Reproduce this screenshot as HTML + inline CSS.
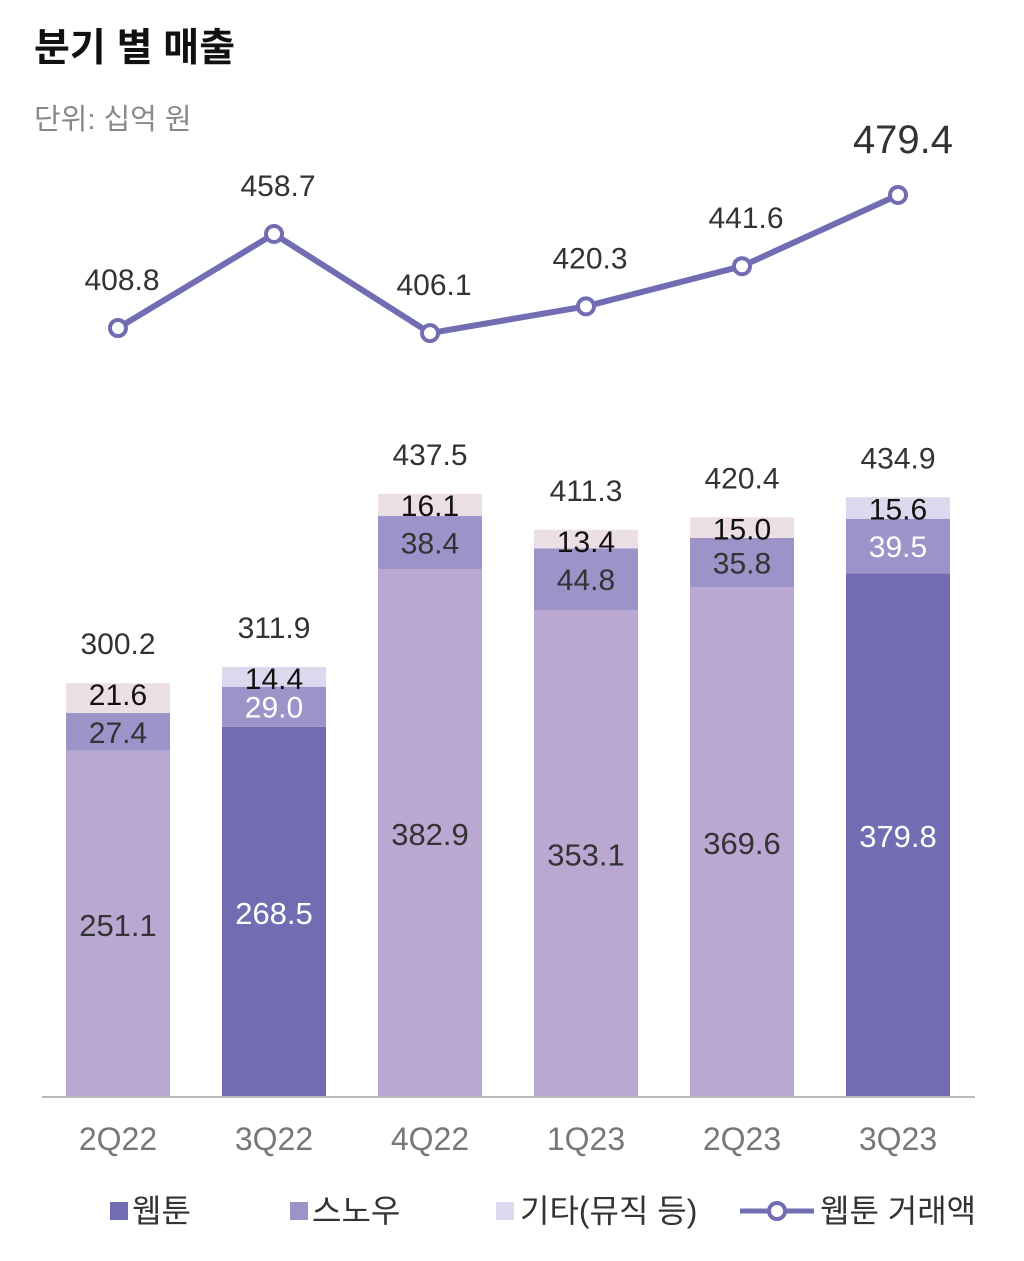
<!DOCTYPE html>
<html><head><meta charset="utf-8"><style>
body{margin:0;background:#fff;font-family:"Liberation Sans","Noto Sans CJK KR",sans-serif;}
#wrap{position:relative;width:1024px;height:1261px;overflow:hidden;}
</style></head><body>
<div id="wrap">
<svg id="chart" width="1024" height="1261" xmlns="http://www.w3.org/2000/svg">
<text x="34" y="61" font-size="39" font-weight="bold" fill="#111">분기 별 매출</text>
<text x="34" y="129" font-size="29" fill="#888">단위: 십억 원</text>
</svg>
</div>
<script>
const categories=["2Q22","3Q22","4Q22","1Q23","2Q23","3Q23"];
const webtoon=[251.1,268.5,382.9,353.1,369.6,379.8];
const snow=[27.4,29.0,38.4,44.8,35.8,39.5];
const other=[21.6,14.4,16.1,13.4,15.0,15.6];
const totals=[300.2,311.9,437.5,411.3,420.4,434.9];
const gmv=[408.8,458.7,406.1,420.3,441.6,479.4];
const highlight=[false,true,false,false,false,true];

const svg=document.getElementById('chart');
const NS='http://www.w3.org/2000/svg';
const base=1097, pxu=1.379;
const xC=i=>118+i*156;
const yB=v=>base-v*pxu;
const yL=v=>328-(v-408.8)*1.884;
function mk(t,a){const e=document.createElementNS(NS,t);for(const k in a)e.setAttribute(k,a[k]);svg.appendChild(e);return e;}
function txt(x,y,s,size,fill,name){const e=mk('text',{x:x,y:y,'text-anchor':'middle','font-size':size,fill:fill});e.textContent=s;


return e;}
const otherCol=["#ecdfe3","#dcd8ee","#ecdfe3","#ecdfe3","#ecdfe3","#dcd8ee"];
categories.forEach((c,i)=>{
 const x=xC(i)-52,w=104;
 const w0=yB(webtoon[i]),s0=yB(webtoon[i]+snow[i]),o0=yB(webtoon[i]+snow[i]+other[i]);
 let r=mk('rect',{x:x,y:w0,width:w,height:base-w0,fill:highlight[i]?'#726db3':'#baa8d2'});
 
 
 r=mk('rect',{x:x,y:s0,width:w,height:w0-s0,fill:'#9c93c9'});
 
 
 r=mk('rect',{x:x,y:o0,width:w,height:s0-o0,fill:otherCol[i]});
 
 
 const lc=highlight[i]?'#fff':'#333';
 txt(xC(i),(w0+base)/2+12,webtoon[i].toFixed(1),31,lc,'label-webtoon-'+c);
 txt(xC(i),(s0+w0)/2+11,snow[i].toFixed(1),30,lc,'label-snow-'+c);
 txt(xC(i),o0+22,other[i].toFixed(1),30,'#111','label-other-'+c);
 txt(xC(i),o0-29,totals[i].toFixed(1),30,'#333','label-total-'+c);
 txt(xC(i),1150,c,32,'#777','x-tick-'+c);
});
let ax=mk('line',{x1:42,y1:base,x2:975,y2:base,stroke:'#bbb','stroke-width':2});


let pl=mk('polyline',{points:gmv.map((v,i)=>xC(i)+','+yL(v)).join(' '),fill:'none',stroke:'#726db3','stroke-width':6});


gmv.forEach((v,i)=>{
 const p=mk('circle',{cx:xC(i),cy:yL(v),r:8,fill:'#fff',stroke:'#726db3','stroke-width':4});
 
 
 const last=i===gmv.length-1;
 txt(xC(i)+(last?5:4),yL(v)-(last?42:38),v.toFixed(1),last?40:30,'#333','gmv-label-'+categories[i]);
});
let lg;
lg=mk('rect',{x:110,y:1202,width:18,height:18,fill:'#726db3'});
lg=mk('text',{x:132,y:1222,'font-size':32,fill:'#333'});lg.textContent='웹툰';
lg=mk('rect',{x:290,y:1202,width:18,height:18,fill:'#9c93c9'});
lg=mk('text',{x:312,y:1222,'font-size':32,fill:'#333'});lg.textContent='스노우';
lg=mk('rect',{x:496,y:1202,width:18,height:18,fill:'#dcd8ee'});
lg=mk('text',{x:520,y:1222,'font-size':32,fill:'#333'});lg.textContent='기타(뮤직 등)';
lg=mk('line',{x1:740,y1:1211,x2:814,y2:1211,stroke:'#726db3','stroke-width':5});
lg=mk('circle',{cx:777,cy:1211,r:8,fill:'#fff',stroke:'#726db3','stroke-width':4});
lg=mk('text',{x:820,y:1222,'font-size':32,fill:'#333'});lg.textContent='웹툰 거래액';
</script>
</body></html>
